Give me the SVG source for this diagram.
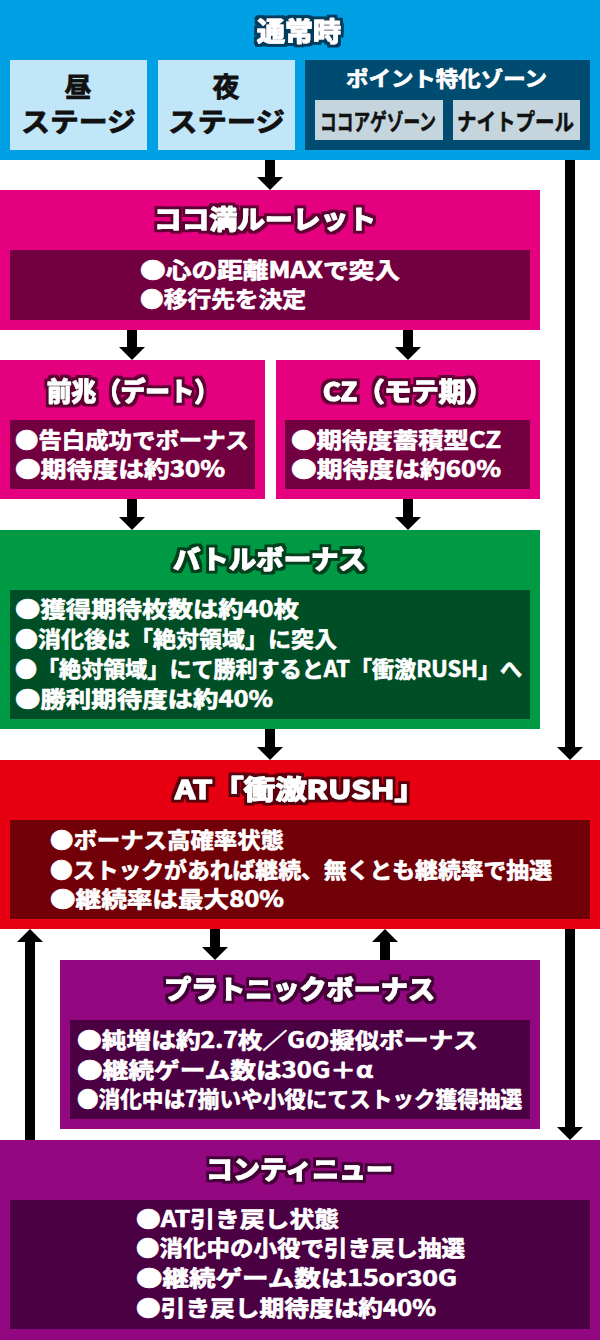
<svg xmlns="http://www.w3.org/2000/svg" width="600" height="1340" viewBox="0 0 600 1340">
<style>
text{font-family:"Noto Sans CJK JP","Noto Sans",sans-serif;font-weight:700}
.t{font-size:26px;fill:#fff;stroke:#fff;stroke-width:1.2px;stroke-linejoin:round}
.l{font-size:22px;fill:#fff;stroke:#fff;stroke-width:0.7px;stroke-linejoin:round}
.s{font-size:27px;fill:#111;stroke:#111;stroke-width:0.8px;stroke-linejoin:round}
.z{font-size:23px;fill:#111;stroke:#111;stroke-width:0.6px;stroke-linejoin:round}
.con{stroke:#000;stroke-width:10;fill:none;marker-end:url(#ah)}
</style>
<defs>
<marker id="ah" viewBox="0 0 13 26" refX="0" refY="13" markerWidth="13" markerHeight="26" markerUnits="userSpaceOnUse" orient="auto">
<path d="M0,0 L13,13 L0,26 Z" fill="#000"/>
</marker>
<filter id="oBlue" x="-10%" y="-30%" width="120%" height="160%">
<feMorphology in="SourceAlpha" operator="dilate" radius="3" result="d"/>
<feFlood flood-color="#003D5E"/><feComposite in2="d" operator="in" result="o"/>
<feMerge><feMergeNode in="o"/><feMergeNode in="SourceGraphic"/></feMerge>
</filter>
<filter id="oPink" x="-10%" y="-30%" width="120%" height="160%">
<feMorphology in="SourceAlpha" operator="dilate" radius="3" result="d"/>
<feFlood flood-color="#5E0034"/><feComposite in2="d" operator="in" result="o"/>
<feMerge><feMergeNode in="o"/><feMergeNode in="SourceGraphic"/></feMerge>
</filter>
<filter id="oGreen" x="-10%" y="-30%" width="120%" height="160%">
<feMorphology in="SourceAlpha" operator="dilate" radius="3" result="d"/>
<feFlood flood-color="#003F1D"/><feComposite in2="d" operator="in" result="o"/>
<feMerge><feMergeNode in="o"/><feMergeNode in="SourceGraphic"/></feMerge>
</filter>
<filter id="oRed" x="-10%" y="-30%" width="120%" height="160%">
<feMorphology in="SourceAlpha" operator="dilate" radius="3" result="d"/>
<feFlood flood-color="#5D0009"/><feComposite in2="d" operator="in" result="o"/>
<feMerge><feMergeNode in="o"/><feMergeNode in="SourceGraphic"/></feMerge>
</filter>
<filter id="oPurple" x="-10%" y="-30%" width="120%" height="160%">
<feMorphology in="SourceAlpha" operator="dilate" radius="3" result="d"/>
<feFlood flood-color="#440039"/><feComposite in2="d" operator="in" result="o"/>
<feMerge><feMergeNode in="o"/><feMergeNode in="SourceGraphic"/></feMerge>
</filter>
</defs>
<rect width="600" height="1340" fill="#fff"/>

<g id="normal">
<rect x="0" y="0" width="600" height="160" fill="#00A0E4"/>
<text class="t" x="257" y="41" textLength="84" lengthAdjust="spacingAndGlyphs" filter="url(#oBlue)">通常時</text>
<g id="day">
<rect x="10" y="60" width="137" height="90" fill="#C0E6F8"/>
<text class="s" x="78" y="97" text-anchor="middle">昼</text>
<text class="s" x="21" y="132" textLength="115" lengthAdjust="spacingAndGlyphs">ステージ</text>
</g>
<g id="night">
<rect x="158" y="60" width="137" height="90" fill="#C0E6F8"/>
<text class="s" x="226" y="97" text-anchor="middle">夜</text>
<text class="s" x="168" y="132" textLength="117" lengthAdjust="spacingAndGlyphs">ステージ</text>
</g>
<g id="pointzone">
<rect x="305" y="60" width="285" height="90" fill="#004B70"/>
<text x="346" y="86" style="font-size:21px;fill:#fff;stroke:#fff;stroke-width:0.7px" textLength="201" lengthAdjust="spacingAndGlyphs">ポイント特化ゾーン</text>
<rect x="315" y="100" width="128" height="40" fill="#C5D5DE"/>
<text class="z" x="320" y="130" textLength="116" lengthAdjust="spacingAndGlyphs">ココアゲゾーン</text>
<rect x="453" y="100" width="127" height="40" fill="#C5D5DE"/>
<text class="z" x="457" y="130" textLength="117" lengthAdjust="spacingAndGlyphs">ナイトプール</text>
</g>
</g>

<g id="roulette">
<rect x="0" y="190" width="540" height="140" fill="#E4007F"/>
<text class="t" x="154" y="229" textLength="222" lengthAdjust="spacingAndGlyphs" filter="url(#oPink)">ココ満ルーレット</text>
<rect x="10" y="250" width="520" height="70" fill="#720040"/>
<text class="l" x="140" y="278" textLength="260" lengthAdjust="spacingAndGlyphs">●心の距離MAXで突入</text>
<text class="l" x="140" y="307" textLength="166" lengthAdjust="spacingAndGlyphs">●移行先を決定</text>
</g>

<g id="zencho">
<rect x="0" y="360" width="265" height="139" fill="#E4007F"/>
<text class="t" x="47" y="401" textLength="172" lengthAdjust="spacingAndGlyphs" filter="url(#oPink)">前兆（デート）</text>
<rect x="10" y="420" width="245" height="69" fill="#720040"/>
<text class="l" x="15" y="448" textLength="234" lengthAdjust="spacingAndGlyphs">●告白成功でボーナス</text>
<text class="l" x="15" y="477" textLength="210" lengthAdjust="spacingAndGlyphs">●期待度は約30%</text>
</g>

<g id="cz">
<rect x="276" y="360" width="264" height="139" fill="#E4007F"/>
<text class="t" x="323" y="401" textLength="170" lengthAdjust="spacingAndGlyphs" filter="url(#oPink)">CZ（モテ期）</text>
<rect x="285" y="420" width="245" height="69" fill="#720040"/>
<text class="l" x="291" y="448" textLength="210" lengthAdjust="spacingAndGlyphs">●期待度蓄積型CZ</text>
<text class="l" x="291" y="477" textLength="210" lengthAdjust="spacingAndGlyphs">●期待度は約60%</text>
</g>

<g id="battle">
<rect x="0" y="530" width="540" height="199" fill="#009A44"/>
<text class="t" x="173" y="569" textLength="193" lengthAdjust="spacingAndGlyphs" filter="url(#oGreen)">バトルボーナス</text>
<rect x="10" y="590" width="520" height="129" fill="#004E25"/>
<text class="l" x="15" y="617" textLength="284" lengthAdjust="spacingAndGlyphs">●獲得期待枚数は約40枚</text>
<text class="l" x="15" y="647" textLength="322" lengthAdjust="spacingAndGlyphs">●消化後は「絶対領域」に突入</text>
<text class="l" x="15" y="677" textLength="507" lengthAdjust="spacingAndGlyphs">●「絶対領域」にて勝利するとAT「衝激RUSH」へ</text>
<text class="l" x="15" y="707" textLength="258" lengthAdjust="spacingAndGlyphs">●勝利期待度は約40%</text>
</g>

<g id="rush">
<rect x="0" y="760" width="600" height="169" fill="#E60012"/>
<text class="t" x="175" y="799" textLength="251" lengthAdjust="spacingAndGlyphs" filter="url(#oRed)">AT「衝激RUSH」</text>
<rect x="10" y="820" width="580" height="99" fill="#710008"/>
<text class="l" x="50" y="848" textLength="234" lengthAdjust="spacingAndGlyphs">●ボーナス高確率状態</text>
<text class="l" x="50" y="878" textLength="502" lengthAdjust="spacingAndGlyphs">●ストックがあれば継続、無くとも継続率で抽選</text>
<text class="l" x="50" y="907" textLength="234" lengthAdjust="spacingAndGlyphs">●継続率は最大80%</text>
</g>

<g id="platonic">
<rect x="60" y="960" width="480" height="169" fill="#930781"/>
<text class="t" x="164" y="999" textLength="271" lengthAdjust="spacingAndGlyphs" filter="url(#oPurple)">プラトニックボーナス</text>
<rect x="70" y="1020" width="460" height="99" fill="#4A0042"/>
<text class="l" x="77" y="1048" textLength="401" lengthAdjust="spacingAndGlyphs">●純増は約2.7枚／Gの擬似ボーナス</text>
<text class="l" x="77" y="1078" textLength="296" lengthAdjust="spacingAndGlyphs">●継続ゲーム数は30G＋α</text>
<text class="l" x="77" y="1107" textLength="445" lengthAdjust="spacingAndGlyphs">●消化中は7揃いや小役にてストック獲得抽選</text>
</g>

<g id="continue">
<rect x="0" y="1140" width="600" height="200" fill="#930781"/>
<text class="t" x="206" y="1179" textLength="187" lengthAdjust="spacingAndGlyphs" filter="url(#oPurple)">コンティニュー</text>
<rect x="10" y="1200" width="580" height="129" fill="#4A0042"/>
<text class="l" x="136" y="1227" textLength="203" lengthAdjust="spacingAndGlyphs">●AT引き戻し状態</text>
<text class="l" x="136" y="1256" textLength="329" lengthAdjust="spacingAndGlyphs">●消化中の小役で引き戻し抽選</text>
<text class="l" x="136" y="1286" textLength="321" lengthAdjust="spacingAndGlyphs">●継続ゲーム数は15or30G</text>
<text class="l" x="136" y="1316" textLength="300" lengthAdjust="spacingAndGlyphs">●引き戻し期待度は約40%</text>
</g>

<g id="connectors">
<line class="con" x1="270" y1="160" x2="270" y2="177"/>
<line class="con" x1="570" y1="160" x2="570" y2="747"/>
<line class="con" x1="132" y1="330" x2="132" y2="347"/>
<line class="con" x1="408" y1="330" x2="408" y2="347"/>
<line class="con" x1="132" y1="499" x2="132" y2="517"/>
<line class="con" x1="408" y1="499" x2="408" y2="517"/>
<line class="con" x1="270" y1="729" x2="270" y2="747"/>
<line class="con" x1="215" y1="929" x2="215" y2="947"/>
<line class="con" x1="385" y1="960" x2="385" y2="942"/>
<line class="con" x1="30" y1="1140" x2="30" y2="942"/>
<line class="con" x1="570" y1="929" x2="570" y2="1127"/>
</g>
</svg>
